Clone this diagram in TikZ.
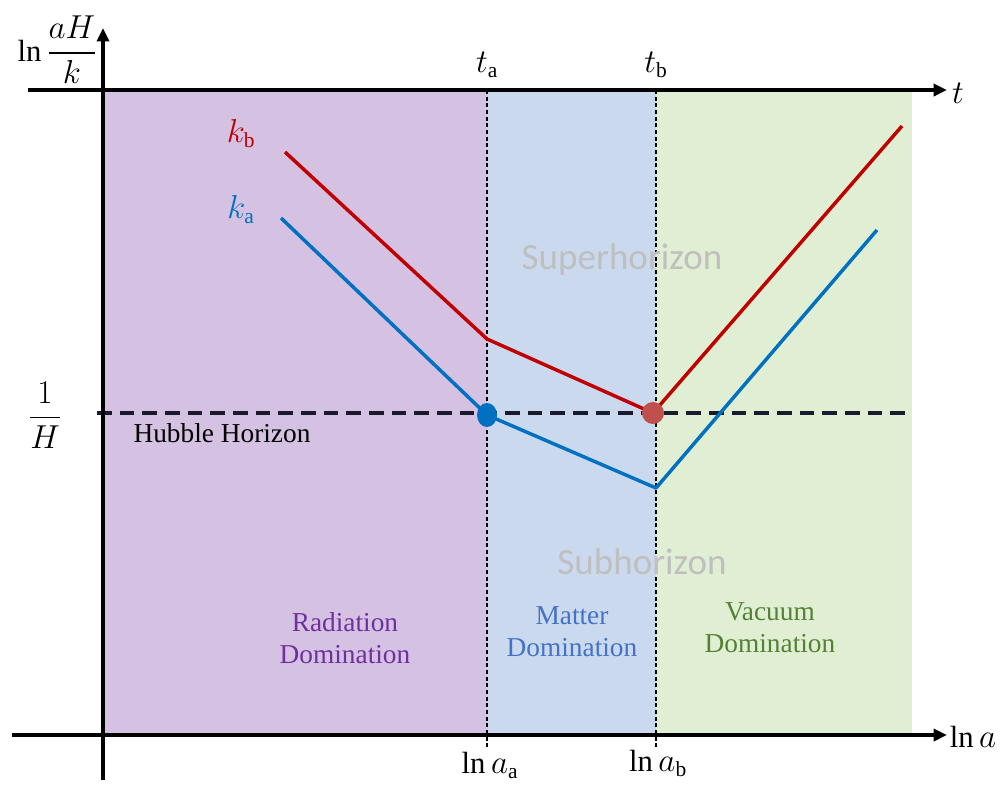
\documentclass[tikz,border=0pt]{standalone}
\usepackage{amsmath}
\usepackage{fontspec}
\setmainfont{Liberation Serif}
\newfontfamily\sansf{Carlito}
\usetikzlibrary{arrows.meta}
\definecolor{radfill}{HTML}{D5C1E2}
\definecolor{matfill}{HTML}{CBD9EE}
\definecolor{vacfill}{HTML}{E0EFD3}
\definecolor{kbred}{HTML}{C00000}
\definecolor{kablue}{HTML}{0070C0}
\definecolor{dotred}{HTML}{C0504D}
\definecolor{radtext}{HTML}{7030A0}
\definecolor{mattext}{HTML}{4472C4}
\definecolor{vactext}{HTML}{548235}
\definecolor{hzgray}{HTML}{BFBFBF}
\definecolor{hubble}{HTML}{1A1A2E}
\tikzset{
  axis/.style={line width=3pt,-{Triangle[length=10pt,width=9pt]}},
  curve/.style={line width=2.6pt,line join=round},
  divider/.style={line width=1pt,dash pattern=on 3pt off 2pt},
  hubbleline/.style={line width=2.4pt,hubble,dash pattern=on 11pt off 6pt},
  lbl/.style={inner sep=0pt,font=\fontsize{23}{26}\selectfont},
  era/.style={inner sep=0pt,align=center,font=\fontsize{20.5}{24}\selectfont},
  hz/.style={inner sep=0pt,text=hzgray,font=\sansf\fontsize{27.8}{30}\selectfont}
}
\begin{document}
\begin{tikzpicture}[x=0.75pt,y=-0.75pt]
\useasboundingbox (0,0) rectangle (1002,786);
% regions
\fill[radfill] (103,90) rectangle (487,735);
\fill[matfill] (487,90) rectangle (656,735);
\fill[vacfill] (656,90) rectangle (912,735);
% coordinates
\coordinate (ya0) at (103,780);
\coordinate (ya1) at (103,28);
\coordinate (ta0) at (28,90);
\coordinate (ta1) at (947,90);
\coordinate (xa0) at (12,735);
\coordinate (xa1) at (947,735);
\coordinate (da0) at (487,90);
\coordinate (da1) at (487,748);
\coordinate (db0) at (656,90);
\coordinate (db1) at (656,748);
\coordinate (h0) at (97,413);
\coordinate (h1) at (905,413);
% dividers
\draw[divider] (da0) -- (da1);
\draw[divider] (db0) -- (db1);
% hubble horizon
\draw[hubbleline] (h0) -- (h1);
% curves
\coordinate (b0) at (285,152);
\coordinate (b1) at (487,339);
\coordinate (b2) at (653,413);
\coordinate (b3) at (902,126);
\coordinate (a0) at (281,218);
\coordinate (a1) at (487,415);
\coordinate (a2) at (656,488);
\coordinate (a3) at (877,230);
\draw[curve,kbred] (b0) -- (b1) -- (b2) -- (b3);
\draw[curve,kablue] (a0) -- (a1) -- (a2) -- (a3);
\fill[kablue] (a1) ellipse [x radius=10, y radius=12];
\fill[dotred] (b2) circle [radius=11];
% axes
\draw[axis] (ya0) -- (ya1);
\draw[axis] (ta0) -- (ta1);
\draw[axis] (xa0) -- (xa1);
% labels
\node[lbl,anchor=east] (ylab) at (97,50) {$\ln\dfrac{aH}{k}$};
\node[lbl] (tlab) at (958,93) {$t$};
\node[lbl] (xlab) at (973,737) {$\ln a$};
\node[lbl] (talab) at (487,65) {$t_{\mathrm{a}}$};
\node[lbl] (tblab) at (656,65) {$t_{\mathrm{b}}$};
\node[lbl] (aalab) at (490,765) {$\ln a_{\mathrm{a}}$};
\node[lbl] (ablab) at (658,763) {$\ln a_{\mathrm{b}}$};
\node[lbl] (hlab) at (45,415) {$\dfrac{1}{H}$};
\node[lbl,text=kbred] (kblab) at (241,134) {$k_{\mathrm{b}}$};
\node[lbl,text=kablue] (kalab) at (241,210) {$k_{\mathrm{a}}$};
\node[inner sep=0pt,font=\fontsize{20.5}{24}\selectfont] (hhlab) at (222,433) {Hubble Horizon};
\node[hz] (sup) at (622,260) {Superhorizon};
\node[hz] (sub) at (642,562) {Subhorizon};
\node[era,text=radtext] (rad) at (345,638) {Radiation\\Domination};
\node[era,text=mattext] (mat) at (572,632) {Matter\\Domination};
\node[era,text=vactext] (vac) at (770,628) {Vacuum\\Domination};
\end{tikzpicture}
\end{document}
